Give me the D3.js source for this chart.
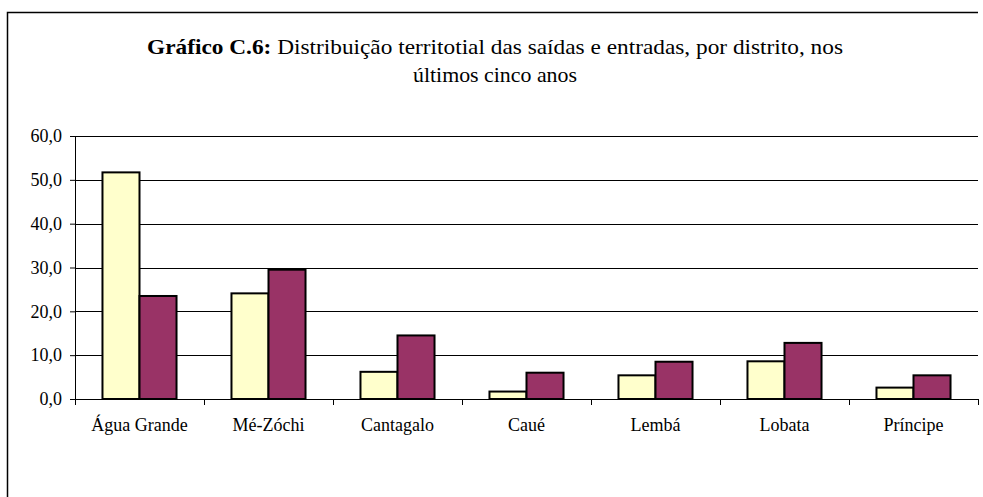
<!DOCTYPE html>
<html>
<head>
<meta charset="utf-8">
<script src="https://cdn.jsdelivr.net/npm/d3@7"></script>
<style>
  body { margin: 0; background: #fff; }
  svg text { font-family: "Liberation Serif", "Times New Roman", Times, serif !important; fill: #000; }
</style>
</head>
<body>
<div id="chart"></div>
<script>
const districts = ["Água Grande", "Mé-Zóchi", "Cantagalo", "Caué", "Lembá", "Lobata", "Príncipe"];
const saidas = [51.7, 24.1, 6.2, 1.7, 5.4, 8.6, 2.6];
const entradas = [23.5, 29.5, 14.5, 6.0, 8.5, 12.8, 5.4];
const yTicks = [0, 10, 20, 30, 40, 50, 60];
const seriesColors = ["#FFFFCC", "#993366"];

function drawChart() {
    const width = 983;
    const height = 497;
    const plot = { left: 75, right: 978, top: 136, bottom: 399 };
    const serif = "'Liberation Serif', 'Times New Roman', serif";

    const svg = d3.select("#chart").append("svg")
        .attr("width", width)
        .attr("height", height);

    // Frame (top and left edges visible)
    svg.append("path")
        .attr("d", `M7.5,${height} V12.5 H978`)
        .attr("fill", "none")
        .attr("stroke", "#000")
        .attr("stroke-width", 1.5);

    // Title
    const title = svg.append("text")
        .attr("x", 495)
        .attr("y", 54)
        .attr("text-anchor", "middle")
        .attr("font-family", serif)
        .attr("textLength", 696)
        .attr("lengthAdjust", "spacingAndGlyphs")
        .style("font-size", "22px");
    title.append("tspan").style("font-weight", "bold").text("Gráfico C.6:");
    title.append("tspan").text(" Distribuição territotial das saídas e entradas, por distrito, nos");
    svg.append("text")
        .attr("x", 495)
        .attr("y", 82)
        .attr("text-anchor", "middle")
        .attr("font-family", serif)
        .attr("textLength", 164)
        .attr("lengthAdjust", "spacingAndGlyphs")
        .style("font-size", "22px")
        .text("últimos cinco anos");

    const x = d3.scaleBand()
        .domain(districts)
        .range([plot.left, plot.right])
        .padding(0);

    const y = d3.scaleLinear()
        .domain([0, 60])
        .range([plot.bottom, plot.top]);

    // Gridlines
    svg.append("g")
        .selectAll("line")
        .data(yTicks.filter(d => d > 0))
        .enter()
        .append("line")
        .attr("x1", plot.left)
        .attr("x2", plot.right)
        .attr("y1", d => Math.round(y(d)) + 0.5)
        .attr("y2", d => Math.round(y(d)) + 0.5)
        .attr("stroke", "#000")
        .attr("stroke-width", 1);

    // Bars
    const barW = x.bandwidth() * 0.287;
    const groups = svg.append("g")
        .selectAll("g")
        .data(districts)
        .enter()
        .append("g")
        .attr("transform", d => `translate(${x(d) + x.bandwidth() / 2 - barW}, 0)`);

    [saidas, entradas].forEach((vals, s) => {
        groups.append("rect")
            .attr("x", s * barW)
            .attr("y", (d, i) => y(vals[i]))
            .attr("width", barW)
            .attr("height", (d, i) => y(0) - y(vals[i]))
            .attr("fill", seriesColors[s])
            .attr("stroke", "#000")
            .attr("stroke-width", 2);
    });

    // Y axis
    const yAxis = svg.append("g")
        .attr("transform", `translate(${plot.left}, 0)`)
        .call(d3.axisLeft(y)
            .tickValues(yTicks)
            .tickSize(5)
            .tickPadding(8)
            .tickFormat(d => d3.format(".1f")(d).replace(".", ",")));
    yAxis.attr("font-family", serif);
    yAxis.select(".domain").attr("stroke", "#000").attr("d", `M0.5,${plot.top}V${plot.bottom}`);
    yAxis.selectAll(".tick text")
        .style("font-size", "18px")
        .attr("fill", "#000");

    // X axis
    const xAxis = svg.append("g")
        .attr("transform", `translate(0, ${plot.bottom})`)
        .call(d3.axisBottom(x).tickSize(0).tickPadding(19));
    xAxis.attr("font-family", serif);
    xAxis.select(".domain").attr("d", `M${plot.left},0.5H${plot.right}`).attr("stroke", "#000");
    xAxis.selectAll(".tick text").style("font-size", "18px").attr("fill", "#000");

    // Category separators below axis
    svg.append("g")
        .selectAll("line")
        .data(districts.map(d => x(d)).concat([plot.right]))
        .enter()
        .append("line")
        .attr("x1", d => Math.round(d) + 0.5)
        .attr("x2", d => Math.round(d) + 0.5)
        .attr("y1", plot.bottom)
        .attr("y2", plot.bottom + 6)
        .attr("stroke", "#000");
}

drawChart();
</script>
</body>
</html>
